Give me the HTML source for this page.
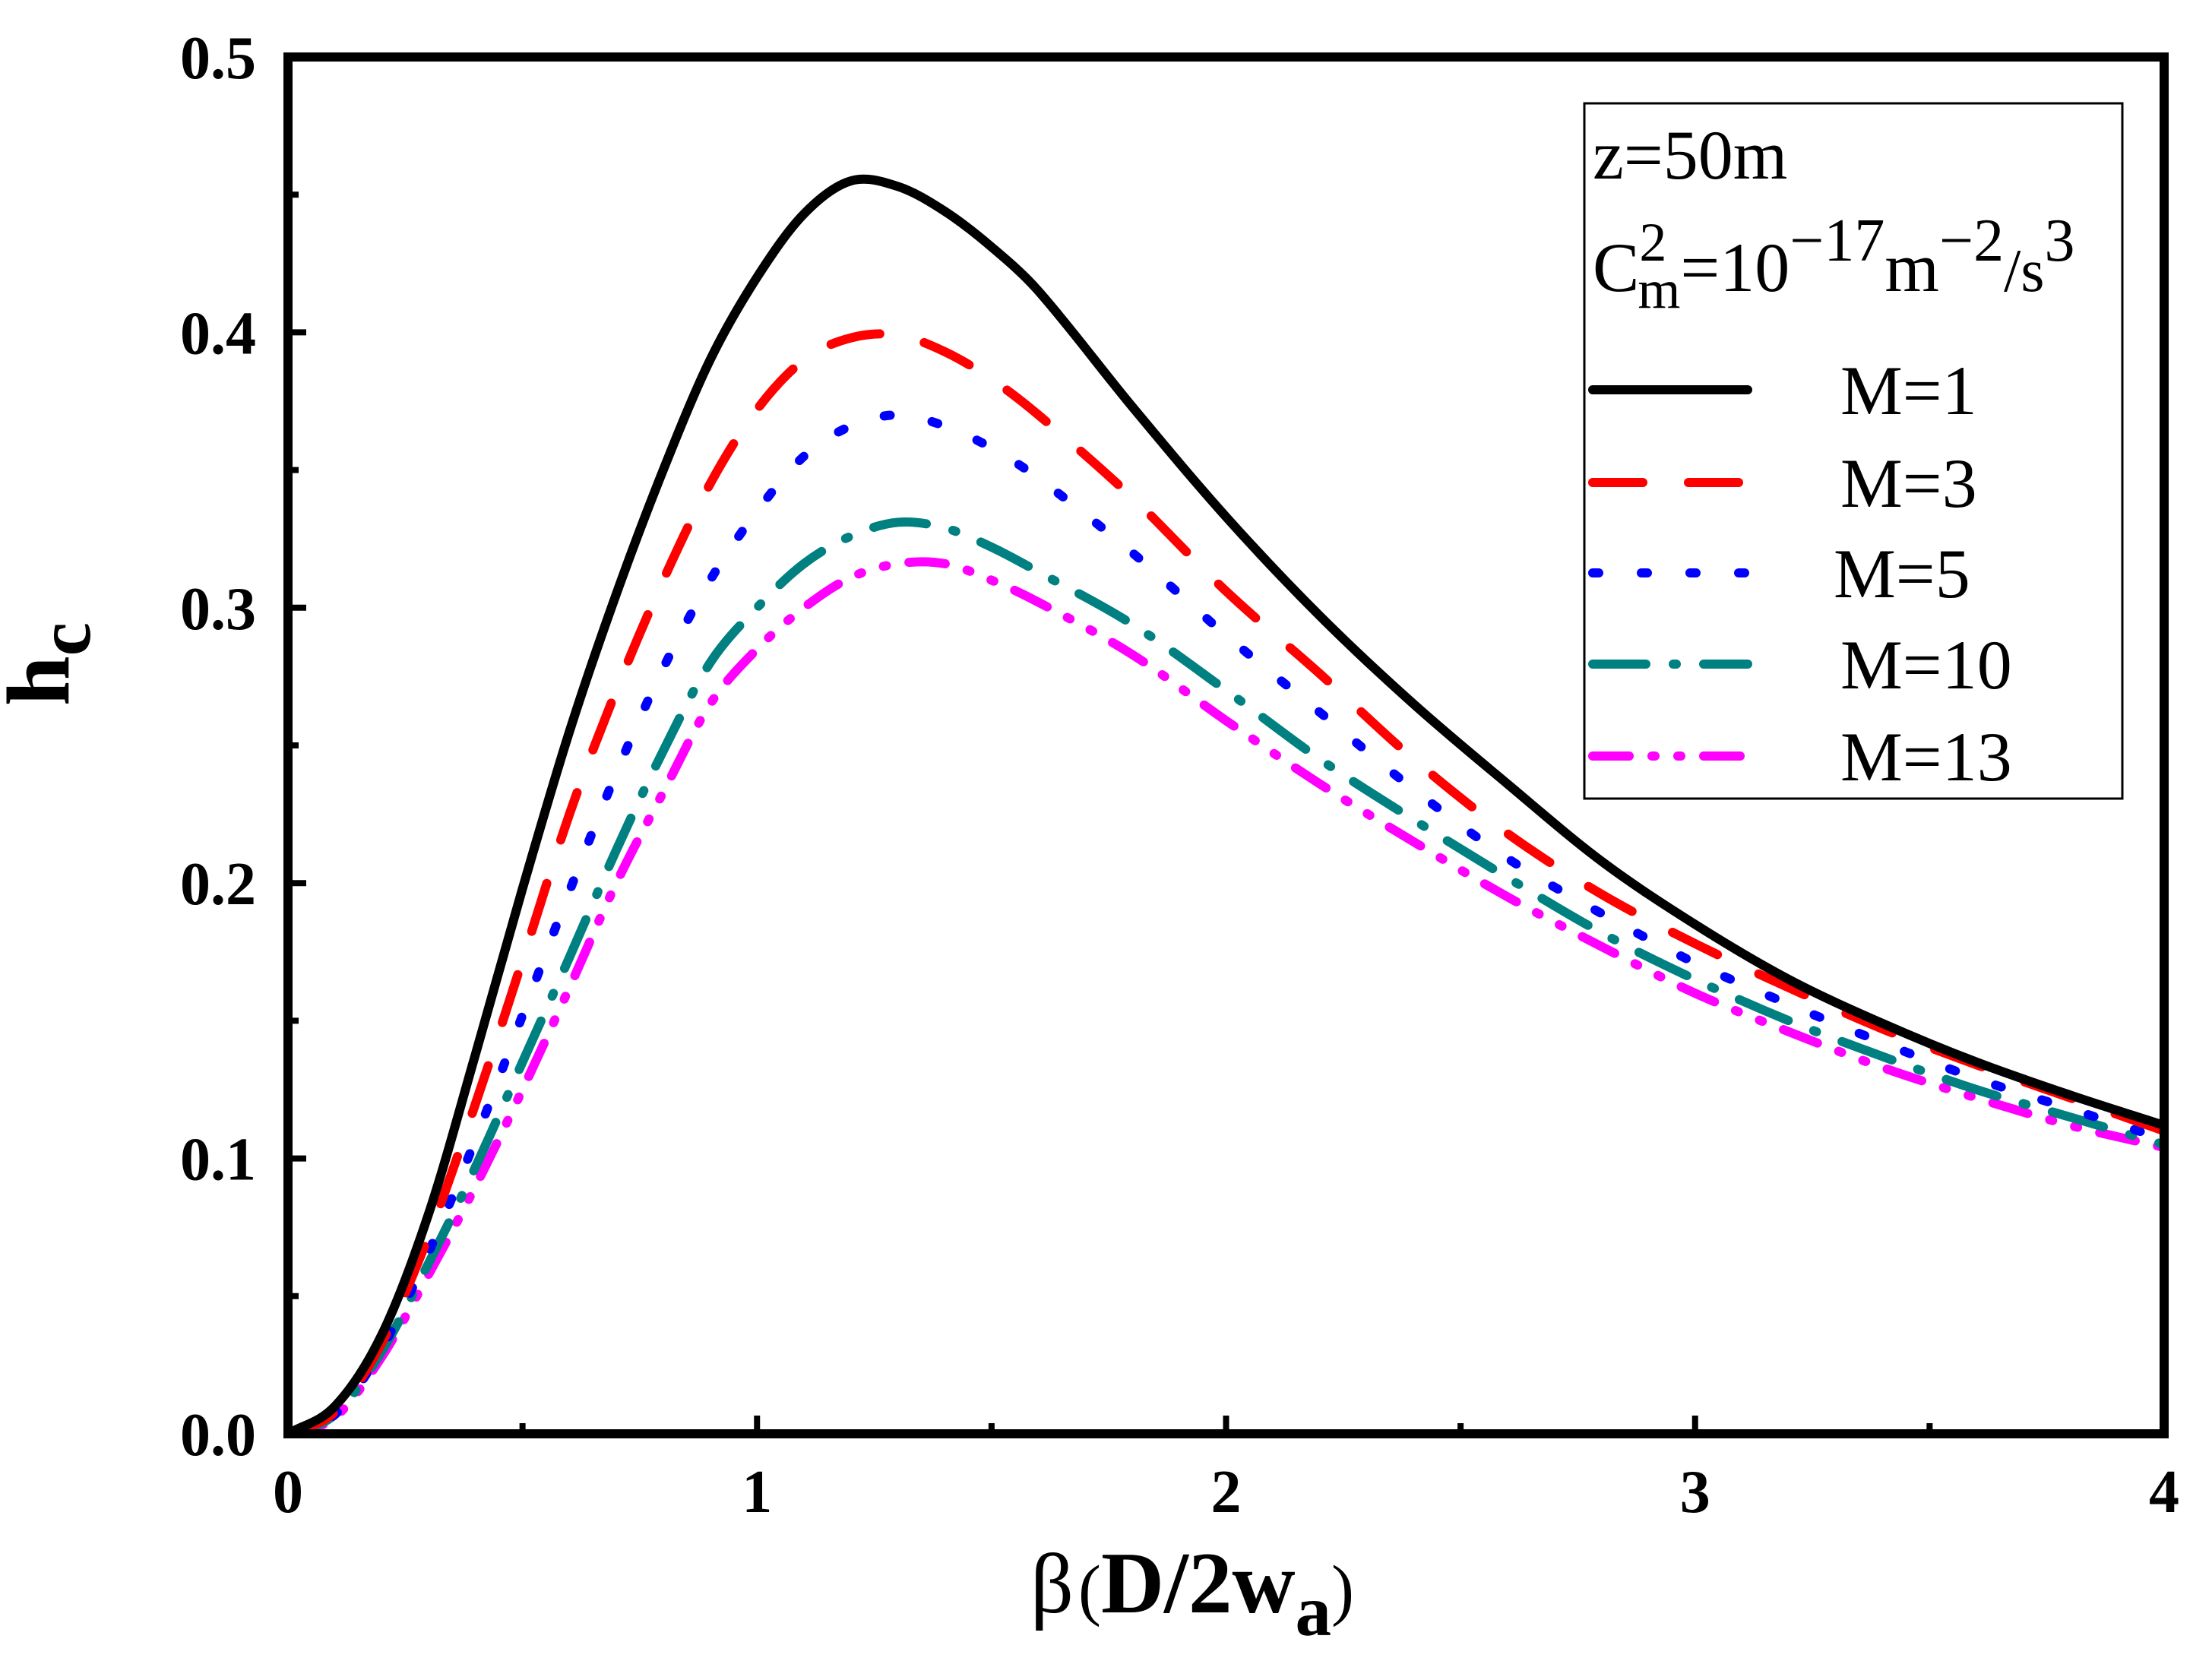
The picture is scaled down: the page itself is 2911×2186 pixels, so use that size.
<!DOCTYPE html>
<html><head><meta charset="utf-8"><style>
html,body{margin:0;padding:0;background:#fff;}
svg{display:block;}
text{font-family:"Liberation Serif","DejaVu Serif",serif;fill:#000;}
</style></head><body>
<svg id="chart" width="2911" height="2186" viewBox="0 0 2911 2186">
<g id="curves"></g>
<g id="axes"></g>
<text x="90" y="874" font-size="118" font-weight="bold" text-anchor="middle" transform="rotate(-90 90 874)">h<tspan font-size="100" dy="28">c</tspan></text>
<text x="1356" y="2122" font-size="112">β<tspan font-size="90" dx="6">(</tspan><tspan font-weight="bold" font-size="115">D/2w</tspan><tspan font-weight="bold" font-size="95" dy="30">a</tspan><tspan font-size="90" dy="-30">)</tspan></text>
<g id="legend">
<rect x="2085" y="136" width="708" height="915" fill="#fff" stroke="#000" stroke-width="3"/>
<text x="2096" y="235" font-size="92">z=50m</text>
<text x="2096" y="383" font-size="92">C<tspan font-size="72" dy="-40">2</tspan><tspan font-size="72" dx="-38" dy="62">m</tspan><tspan dy="-22">=10</tspan><tspan font-size="80" dy="-40">−17</tspan><tspan font-size="92" dy="40">m</tspan><tspan font-size="80" dy="-40">−2</tspan><tspan font-size="80" dy="40">/s</tspan><tspan font-size="80" dy="-40">3</tspan></text>
</g>
</svg>
<script>
const betaVals=[0,0.1,0.2,0.3,0.4,0.5,0.6,0.7,0.8,0.9,1.0,1.1,1.2,1.3,1.4,1.5,1.6,1.8,2.0,2.2,2.4,2.6,2.8,3.0,3.2,3.4,3.6,3.8,4.0];
const hM1=[0,0.01,0.036,0.08,0.138,0.198,0.255,0.305,0.35,0.39,0.42,0.443,0.455,0.453,0.444,0.431,0.415,0.373,0.333,0.297,0.265,0.236,0.208,0.185,0.165,0.149,0.135,0.123,0.112];
const hM3=[0,0.008,0.033,0.072,0.12,0.172,0.225,0.27,0.31,0.345,0.372,0.39,0.398,0.399,0.393,0.383,0.37,0.34,0.306,0.276,0.245,0.218,0.196,0.178,0.162,0.147,0.134,0.122,0.11];
const hM5=[0,0.007,0.031,0.066,0.107,0.152,0.197,0.24,0.278,0.31,0.335,0.355,0.366,0.37,0.366,0.358,0.347,0.32,0.29,0.262,0.234,0.209,0.189,0.171,0.156,0.142,0.129,0.118,0.107];
const hM10=[0,0.007,0.03,0.062,0.097,0.135,0.173,0.212,0.248,0.28,0.3,0.316,0.326,0.331,0.329,0.322,0.313,0.294,0.27,0.245,0.223,0.202,0.182,0.165,0.15,0.137,0.125,0.115,0.105];
const hM13=[0,0.006,0.028,0.058,0.09,0.125,0.162,0.2,0.233,0.265,0.285,0.3,0.311,0.316,0.316,0.31,0.302,0.283,0.259,0.236,0.215,0.195,0.177,0.16,0.146,0.133,0.122,0.112,0.104];
const seriesNames=["M=1","M=3","M=5","M=10","M=13"];
const xTicks=[0,1,2,3,4];
const yTicks=[0.0,0.1,0.2,0.3,0.4,0.5];
const yTickLabels=["0.0","0.1","0.2","0.3","0.4","0.5"];

const L=379,R=2848,T=75,B=1887;
const xs=v=>L+(v-0)/(4-0)*(R-L);
const ys=v=>B-(v-0)/(0.5-0)*(B-T);
const NS="http://www.w3.org/2000/svg";
const styles=[
 {c:"#000",d:"",id:"m1"},
 {c:"#ff0000",d:"66 60",id:"m3"},
 {c:"#0000ff",d:"8 56",id:"m5"},
 {c:"#008080",d:"70 36 4 36",id:"m10"},
 {c:"#ff00ff",d:"48 30 4 30 4 30",id:"m13"}
];
const allSeries=[hM1,hM3,hM5,hM10,hM13];
function pathFor(vals){
 const p=betaVals.map((b,i)=>[xs(b),ys(vals[i])]);
 const n=p.length;
 const m=p.map((q,i)=>{
  const a=p[Math.max(0,i-1)],b=p[Math.min(n-1,i+1)];
  return (b[1]-a[1])/(b[0]-a[0]);
 });
 let d="M"+p[0][0]+","+p[0][1];
 for(let i=0;i<n-1;i++){
  const p1=p[i],p2=p[i+1],dx=(p2[0]-p1[0])/3;
  d+=" C"+(p1[0]+dx)+","+(p1[1]+m[i]*dx)+" "+(p2[0]-dx)+","+(p2[1]-m[i+1]*dx)+" "+p2[0]+","+p2[1];
 }
 return d;
}
const cg=document.getElementById("curves");
for(let k=allSeries.length-1;k>=0;k--){
 const el=document.createElementNS(NS,"path");
 el.setAttribute("d",pathFor(allSeries[k]));
 el.setAttribute("fill","none");
 el.setAttribute("stroke",styles[k].c);
 el.setAttribute("stroke-width","12");
 el.setAttribute("stroke-linecap","round");
 if(styles[k].d) el.setAttribute("stroke-dasharray",styles[k].d);
 
 
 cg.appendChild(el);
}
const ag=document.getElementById("axes");
function add(tag,attrs,parent){const e=document.createElementNS(NS,tag);for(const k in attrs)e.setAttribute(k,attrs[k]);(parent||ag).appendChild(e);return e;}
const frame=add("rect",{x:L,y:T,width:R-L,height:B-T,fill:"none",stroke:"#000","stroke-width":12});


for(let i=0;i<xTicks.length;i++){
 const x=xs(xTicks[i]);
 const t=add("line",{x1:x,y1:B,x2:x,y2:B-24,stroke:"#000","stroke-width":8});
 
 
 if(i<xTicks.length-1){
  const xm=xs((xTicks[i]+xTicks[i+1])/2);
  const mk=add("line",{x1:xm,y1:B,x2:xm,y2:B-14,stroke:"#000","stroke-width":8});
  
  
 }
 const lb=add("text",{x:x,y:1990,"font-size":80,"font-weight":"bold","text-anchor":"middle"});
 lb.textContent=String(xTicks[i]);
 
 
}
for(let i=0;i<yTicks.length;i++){
 const y=ys(yTicks[i]);
 const t=add("line",{x1:L,y1:y,x2:L+24,y2:y,stroke:"#000","stroke-width":8});
 
 
 if(i<yTicks.length-1){
  const ym=ys((yTicks[i]+yTicks[i+1])/2);
  const mk=add("line",{x1:L,y1:ym,x2:L+14,y2:ym,stroke:"#000","stroke-width":8});
  
  
 }
 const lb=add("text",{x:337,y:y+28,"font-size":80,"font-weight":"bold","text-anchor":"end"});
 lb.textContent=yTickLabels[i];
 
 
}
const lg=document.getElementById("legend");
const legY=[513,635,754,874,995];
const legTX=[2422,2422,2413,2422,2422];
for(let k=0;k<seriesNames.length;k++){
 const ln=add("line",{x1:2096,y1:legY[k],x2:2300,y2:legY[k],stroke:styles[k].c,"stroke-width":12,"stroke-linecap":"round"},lg);
 if(styles[k].d) ln.setAttribute("stroke-dasharray",styles[k].d);
 
 
 const tx=add("text",{x:legTX[k],y:legY[k]+32,"font-size":92},lg);
 tx.textContent=seriesNames[k];
 
 
}
</script>
</body></html>
